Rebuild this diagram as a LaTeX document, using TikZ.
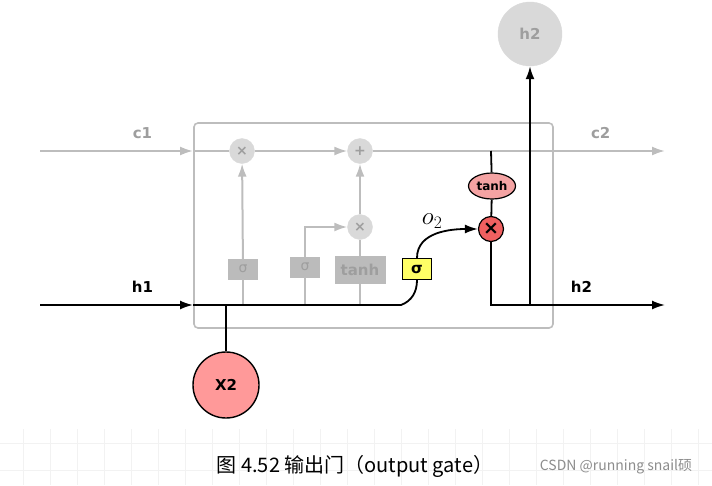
\documentclass[tikz,border=0pt]{standalone}
\usepackage{fix-cm}
\usepackage{fontspec}
\setmainfont{DejaVu Sans}
\newfontfamily\cjk{Noto Sans CJK SC}
\usetikzlibrary{arrows.meta, shapes.geometric}
\definecolor{lineg}{HTML}{BDBDBD}
\definecolor{fillg}{HTML}{D9D9D9}
\definecolor{boxg}{HTML}{BBBBBB}
\definecolor{textg}{HTML}{9E9E9E}
\definecolor{pinkred}{HTML}{FF9999}
\definecolor{gatered}{HTML}{F06060}
\definecolor{tanhred}{HTML}{F4A3A3}
\definecolor{gateyel}{HTML}{FFFF66}
\tikzset{
  opcircle/.style={
    circle,
    draw=fillg,
    fill=fillg,
    text=textg,
    minimum size=25pt,
    inner sep=0pt,
    font=\fontsize{14}{16}\selectfont\bfseries
  }
}
\tikzset{
  graybox/.style={
    rectangle,
    draw=boxg,
    fill=boxg,
    text=textg,
    minimum width=29pt,
    minimum height=20pt,
    inner sep=0pt,
    font=\fontsize{14}{16}\selectfont
  }
}
\tikzset{
  gatebox/.style={
    rectangle,
    draw=black,
    line width=1.2pt,
    fill=gateyel,
    minimum width=29pt,
    minimum height=21pt,
    inner sep=0pt,
    font=\fontsize{15}{16}\selectfont\bfseries
  }
}
\tikzstyle{arrow} = [-{Latex[length=13pt,width=9pt]}]
\tikzstyle{gline} = [draw=lineg, line width=2pt]
\tikzstyle{bline} = [draw=black, line width=1.8pt]
\def\lbl#1{\fontsize{15}{18}\selectfont\bfseries #1}

\begin{document}
\begin{tikzpicture}[x=1pt, y=-1pt]
    \useasboundingbox (0,0) rectangle (712,485);
    % faint grid of the page
    \foreach \gx in {23,50,...,712}
      \draw[black!5, line width=0.8pt] (\gx,429) -- (\gx,485);
    \foreach \gy in {443,470}
      \draw[black!5, line width=0.8pt] (0,\gy) -- (712,\gy);
    % cell
    \draw[lineg, line width=1.6pt, rounded corners=4pt] (194,123) rectangle (553,328);
    \node[opcircle] (fx) at (242,151) {×};
    \node[opcircle] (plus) at (360,151) {+};
    \node[opcircle] (ix) at (360,227) {×};
    \node[graybox] (fsig) at (243,269) {σ};
    \node[graybox] (isig) at (305,267) {σ};
    \node[graybox, minimum width=50pt, minimum height=27pt] (gtanh) at (360,270) {\lbl{tanh}};
    \node[gatebox] (osig) at (417,269) {σ};
    \node[circle, draw=black, line width=1.2pt, fill=gatered, minimum size=25pt, inner sep=0pt, font=\fontsize{19}{20}\selectfont\bfseries] (ox) at (491,229) {×};
    \node[ellipse, draw=black, line width=1.2pt, fill=tanhred, minimum width=47pt, minimum height=26pt, inner sep=0pt] (otanh) at (492,186) {\fontsize{12}{14}\selectfont\bfseries tanh};
    \node[circle, draw=fillg, fill=fillg, text=textg, minimum size=64pt, inner sep=0pt] (h2top) at (530,34) {\lbl{h2}};
    \node[circle, draw=black, line width=1.4pt, fill=pinkred, minimum size=66pt, inner sep=0pt] (x2) at (226,385) {\lbl{X2}};
    \coordinate (c1in) at (40,151);
    \coordinate (cleft) at (193,151);
    \coordinate (c2out) at (665,151);
    \coordinate (h1in) at (40,305);
    \coordinate (hleft) at (193,305);
    \coordinate (hbend) at (401,305);
    \coordinate (ctop) at (491,151);
    \coordinate (hcorner) at (491,305);
    \coordinate (hsplit) at (530,305);
    \coordinate (h2out) at (665,305);
    \coordinate (xjoin) at (226,305);
    % cell state, gray
    \draw[gline, arrow] (c1in) -- (cleft) node [pos=0.67, above=8pt, text=textg] {\lbl{c1}};
    \draw[gline] (cleft) -- (fx);
    \draw[gline, arrow] (fx) -- (plus);
    \draw[gline, arrow] (plus) -- (c2out) node [pos=0.78, above=8pt, text=textg] {\lbl{c2}};
    \draw[gline, arrow] (fsig) -- (fx);
    \draw[gline] (fsig) -- (fsig |- hleft);
    \draw[gline, arrow] (isig.north) |- (ix);
    \draw[gline] (isig) -- (isig |- hleft);
    \draw[gline] (gtanh) -- (ix);
    \draw[gline, arrow] (ix) -- (plus);
    \draw[gline] (gtanh) -- (gtanh |- hleft);
    % output gate, black
    \draw[bline, arrow] (h1in) -- (hleft) node [pos=0.67, above=8pt] {\lbl{h1}};
    \draw[bline] (hleft) -- (hbend) to [out=20, in=-90] (osig.south);
    \draw[bline, arrow] (osig.north) to [out=90, in=180] node [pos=0.42, above=3pt] {\fontsize{25}{28}\selectfont$o_2$} (ox.west);
    \draw[bline] (ctop) -- (otanh);
    \draw[bline] (otanh) -- (ox);
    \draw[bline, arrow] (ox) -- (hcorner) -- (h2out) node [pos=0.52, above=8pt] {\lbl{h2}};
    \draw[bline, arrow] (hsplit) -- (h2top);
    \draw[bline] (x2) -- (xjoin);
    % caption
    \node (caption) at (355,466) {\cjk\fontsize{20}{22}\selectfont 图 4.52 输出门（output gate）};
    \node[text=black!45] (mark) at (616,467) {\cjk\fontsize{14}{16}\selectfont CSDN @running snail硕};
\end{tikzpicture}
\end{document}
